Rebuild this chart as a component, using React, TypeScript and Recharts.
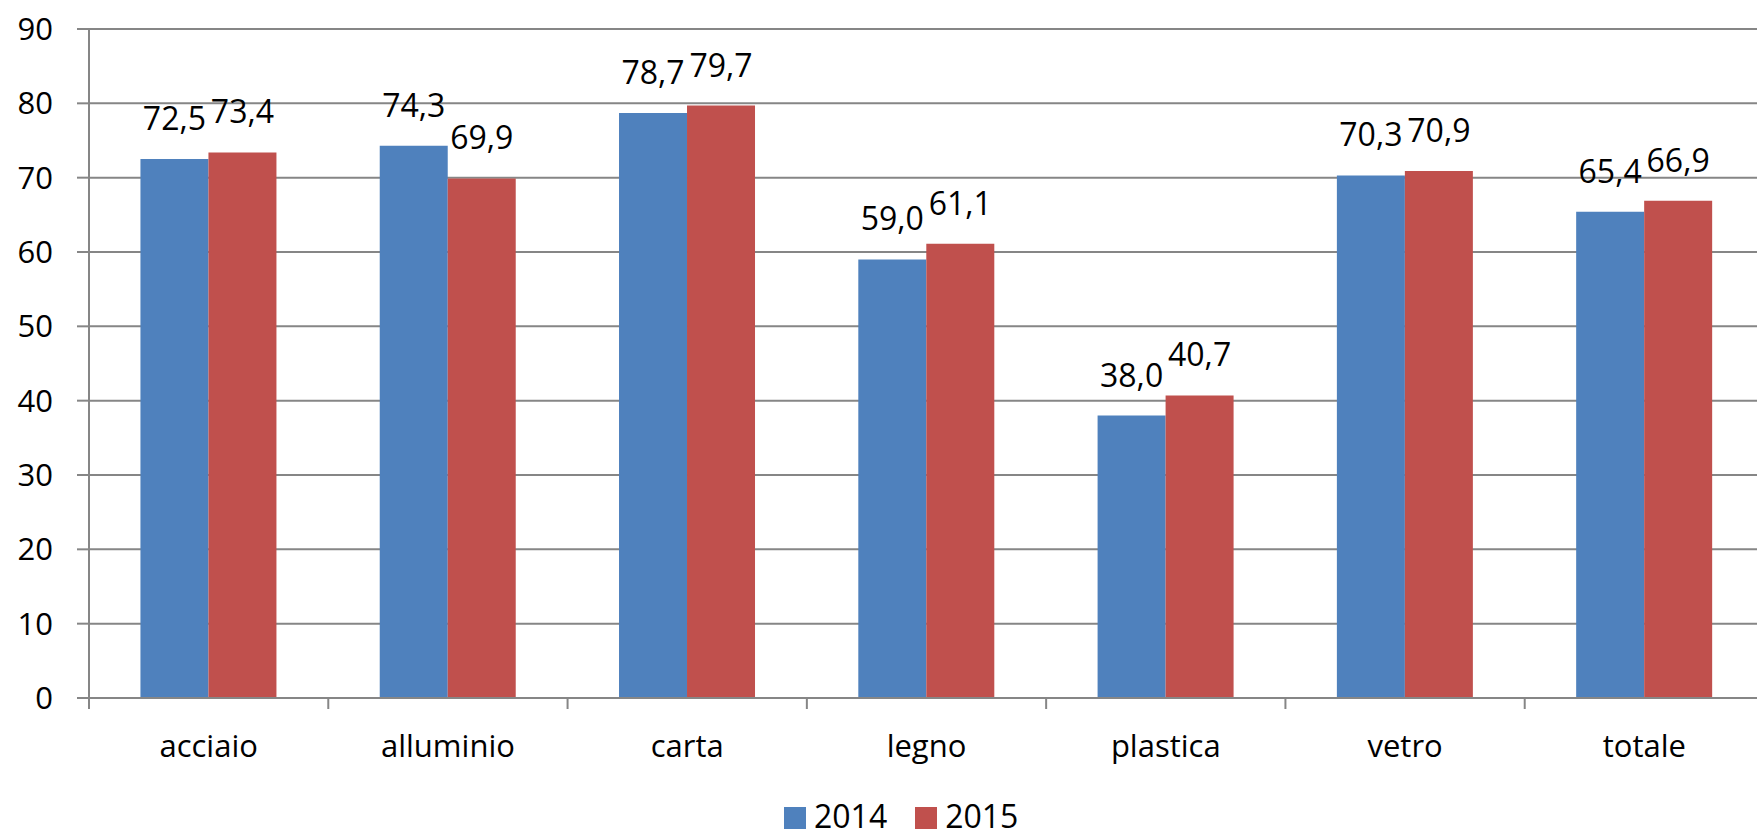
import { Bar, BarChart, CartesianGrid, LabelList, XAxis, YAxis } from 'recharts';

const categories = ['acciaio', 'alluminio', 'carta', 'legno', 'plastica', 'vetro', 'totale'];
const values2014 = [72.5, 74.3, 78.7, 59.0, 38.0, 70.3, 65.4];
const values2015 = [73.4, 69.9, 79.7, 61.1, 40.7, 70.9, 66.9];
const yTicks = [0, 10, 20, 30, 40, 50, 60, 70, 80, 90];
const seriesNames = ['2014', '2015'];

const BLUE = '#4f81bd';
const RED = '#c0504d';
const GRID = '#868686';
const FONT = '"Open Sans", sans-serif';

const CHART_W = 1764;
const CHART_H = 840;
const Y_AXIS_W = 89;
const BAND = (CHART_W - Y_AXIS_W) / categories.length;

const data = categories.map((name, i) => ({
  name,
  v2014: values2014[i],
  v2015: values2015[i],
}));

const fmt = (v: number) => v.toFixed(1).replace('.', ',');

function CategoryTick(props: any) {
  const { x, y, payload } = props;
  const left = x - BAND / 2;
  return (
    <g>
      <line x1={left} y1={y} x2={left} y2={y + 11} stroke={GRID} strokeWidth={2} />
      <text x={x} y={y + 59} textAnchor="middle" fontSize={31} fontFamily={FONT} fill="#000">
        {payload.value}
      </text>
    </g>
  );
}

function LegendBox() {
  const colors = [BLUE, RED];
  return (
    <div
      style={{
        position: 'absolute',
        left: 784,
        top: 801,
        display: 'flex',
        alignItems: 'center',
        fontFamily: FONT,
        fontSize: 32,
        lineHeight: '30px',
        color: '#000',
      }}
    >
      {seriesNames.map((s, i) => (
        <div key={s} style={{ display: 'flex', alignItems: 'center', marginRight: 28 }}>
          <span
            style={{
              display: 'inline-block',
              width: 22,
              height: 22,
              background: colors[i],
              marginRight: 8,
              marginTop: 4,
            }}
          />
          <span>{s}</span>
        </div>
      ))}
    </div>
  );
}

export default function App() {
  return (
    <div
      style={{
        position: 'absolute',
        left: 0,
        top: 0,
        width: 1757,
        height: 840,
        overflow: 'hidden',
        background: '#fff',
      }}
    >
      <BarChart
        width={CHART_W}
        height={CHART_H}
        data={data}
        margin={{ top: 29, right: 0, left: 0, bottom: 82 }}
        barCategoryGap="21.5%"
        barGap={0}
      >
        <CartesianGrid vertical={false} stroke={GRID} strokeWidth={2} />
        <XAxis
          dataKey="name"
          height={60}
          axisLine={{ stroke: GRID, strokeWidth: 2 }}
          tickLine={false}
          tickSize={0}
          tickMargin={0}
          interval={0}
          tick={<CategoryTick />}
        />
        <YAxis
          width={Y_AXIS_W}
          domain={[0, 90]}
          ticks={yTicks}
          interval={0}
          axisLine={{ stroke: GRID, strokeWidth: 2 }}
          tickLine={{ stroke: GRID, strokeWidth: 2 }}
          tickSize={12}
          tickMargin={24}
          tick={{ fontSize: 31, fontFamily: FONT, fill: '#000' }}
        />
        <Bar dataKey="v2014" name={seriesNames[0]} fill={BLUE} isAnimationActive={false}>
          <LabelList
            dataKey="v2014"
            position="top"
            offset={29}
            formatter={(v: any) => fmt(Number(v))}
            style={{ fontSize: 32, fontFamily: FONT, fill: '#000' }}
          />
        </Bar>
        <Bar dataKey="v2015" name={seriesNames[1]} fill={RED} isAnimationActive={false}>
          <LabelList
            dataKey="v2015"
            position="top"
            offset={29}
            formatter={(v: any) => fmt(Number(v))}
            style={{ fontSize: 32, fontFamily: FONT, fill: '#000' }}
          />
        </Bar>
      </BarChart>
      <LegendBox />
    </div>
  );
}
